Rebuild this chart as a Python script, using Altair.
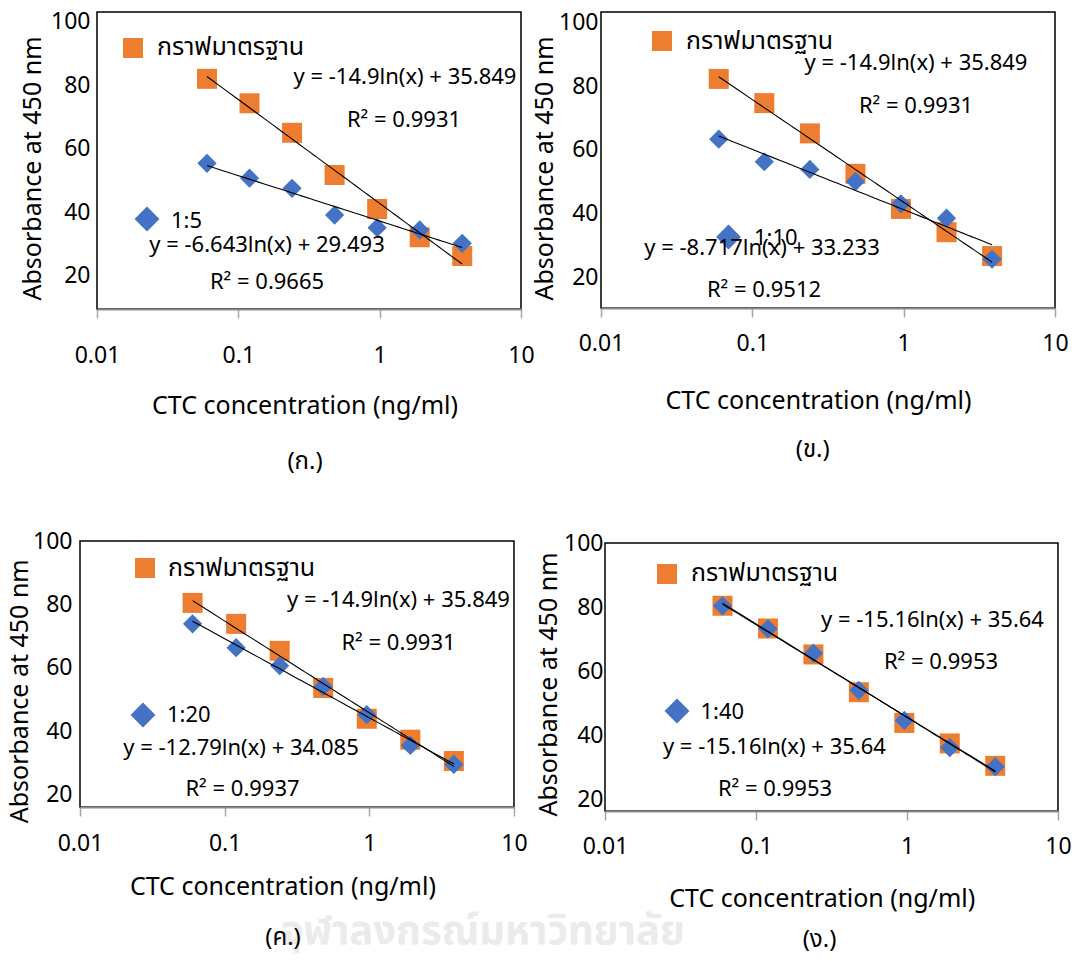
import altair as alt
import pandas as pd

# ---------------- data ----------------
conc = [0.06, 0.12, 0.24, 0.48, 0.96, 1.92, 3.84]
std_name = "กราฟมาตรฐาน"
ratio_names = ["1:5", "1:10", "1:20", "1:40"]
panel_caps = ["(ก.)", "(ข.)", "(ค.)", "(ง.)"]

std_1 = [82.0, 74.3, 65.0, 51.7, 41.0, 32.1, 26.2]
dil_1 = [55.4, 50.7, 47.5, 39.1, 35.1, 34.4, 30.2]
std_2 = [82.3, 74.7, 65.2, 52.5, 41.5, 34.2, 26.7]
dil_2 = [63.4, 56.3, 53.9, 50.1, 43.1, 38.6, 25.7]
std_3 = [80.5, 73.9, 65.4, 53.7, 44.0, 37.4, 30.7]
dil_3 = [73.9, 66.4, 60.7, 54.2, 45.3, 35.6, 29.6]
std_4 = [80.4, 73.3, 65.2, 53.4, 43.8, 37.4, 30.4]
dil_4 = [80.4, 73.2, 65.6, 54.0, 44.6, 36.1, 30.1]

eq_std = ["y = -14.9ln(x) + 35.849", "y = -14.9ln(x) + 35.849",
          "y = -14.9ln(x) + 35.849", "y = -15.16ln(x) + 35.64"]
r2_std = ["R² = 0.9931", "R² = 0.9931", "R² = 0.9931", "R² = 0.9953"]
eq_dil = ["y = -6.643ln(x) + 29.493", "y = -8.717ln(x) + 33.233",
          "y = -12.79ln(x) + 34.085", "y = -15.16ln(x) + 35.64"]
r2_dil = ["R² = 0.9665", "R² = 0.9512", "R² = 0.9937", "R² = 0.9953"]

x_ticks = [0.01, 0.1, 1, 10]
y_ticks = [20, 40, 60, 80, 100]
x_title = "CTC concentration (ng/ml)"
y_title = "Absorbance at 450 nm"
watermark = "จุฬาลงกรณ์มหาวิทยาลัย"

STD = [std_1, std_2, std_3, std_4]
DIL = [dil_1, dil_2, dil_3, dil_4]

# ---------------- styles / layout (page pixel positions) ----------------
ORANGE = "#ED7D31"
BLUE = "#4472C4"
FONT = "Noto Sans"
THAI = "Noto Sans Thai, Noto Sans, sans-serif"
M = 8             # page margin
W, H = 1063, 945  # whole drawing area

LAY = [
    dict(frame=(97, 12, 521, 309), ydom=[9.5, 103.05], xly=355, ylr=90,
         xt=(304.5, 405), yt=(32, 168), cap=(305, 462),
         sq=(133, 48), th=(157, 47), e1=(405, 77), r1=(404, 120),
         dm=(147, 219), rl=(171, 221), e2=(267, 245), r2=(267, 282)),
    dict(frame=(601, 12, 1055, 308), ydom=[10.4, 103.3], xly=343, ylr=598,
         xt=(818, 400), yt=(544, 168), cap=(812.7, 450),
         sq=(662, 41), th=(686, 41), e1=(916, 63), r1=(916, 106),
         dm=(728.5, 237), rl=(754, 238), e2=(762, 248), r2=(764, 290)),
    dict(frame=(80, 541, 514, 807), ydom=[16.2, 100], xly=843, ylr=72,
         xt=(282.4, 886.7), yt=(19.6, 690.8), cap=(283, 938),
         sq=(145, 568), th=(168, 568), e1=(398.5, 600), r1=(398.5, 643),
         dm=(143, 715), rl=(167, 715), e2=(241, 748), r2=(242.5, 789)),
    dict(frame=(605, 543, 1058, 811), ydom=[16.3, 100], xly=846.7, ylr=603,
         xt=(821.7, 898.3), yt=(548.4, 684), cap=(819.5, 940),
         sq=(667, 574), th=(691, 573), e1=(932.5, 620), r1=(941, 662),
         dm=(677, 711), rl=(700.5, 712), e2=(774.4, 747), r2=(775, 789)),
]

TICK = 9
one = pd.DataFrame({"k": [0]})


def txt(s, pos, size, align="center", font=FONT, color="black", weight="normal"):
    return alt.Chart(one).mark_text(
        text=s, align=align, baseline="middle", fontSize=size, font=font,
        color=color, fontWeight=weight
    ).encode(x=alt.value(pos[0] - M), y=alt.value(pos[1] - M))


def sym(shape, color, size, pos):
    return alt.Chart(one).mark_point(
        shape=shape, filled=True, size=size, color=color, opacity=1, strokeWidth=0
    ).encode(x=alt.value(pos[0] - M), y=alt.value(pos[1] - M))


def panel(i):
    c = LAY[i]
    x0, y0, x1, y1 = c["frame"]
    df = pd.DataFrame({
        "conc": conc + conc,
        "abs": STD[i] + DIL[i],
        "series": [std_name] * len(conc) + [ratio_names[i]] * len(conc),
    })
    xscale = alt.Scale(type="log", domain=[0.01, 10], nice=False, range=[x0 - M, x1 - M])
    yscale = alt.Scale(domain=c["ydom"], nice=False, zero=False, range=[y1 - M, y0 - M])
    xaxis = alt.Axis(
        orient="bottom", offset=(y1 - M) - H, zindex=1,
        values=x_ticks, format="~g", title=x_title, labelFlush=False,
        labelBaseline="middle", labelPadding=(c["xly"] - y1) - TICK, tickSize=TICK,
        tickColor="#a6a6a6", tickWidth=1.5, domainColor="#8c8c8c", domainWidth=2,
        titleX=c["xt"][0] - M, titleY=c["xt"][1] - y1,
        titleBaseline="middle", titleAlign="center",
    )
    yaxis = alt.Axis(
        orient="left", offset=-(x0 - M), zindex=1,
        values=y_ticks, title=y_title, domain=False, ticks=False,
        labelPadding=x0 - c["ylr"], labelFlush=False,
        titleX=c["yt"][0] - x0, titleY=c["yt"][1] - M,
        titleBaseline="middle", titleAlign="center",
    )
    xenc = alt.X("conc:Q", scale=xscale, axis=xaxis)
    yenc = alt.Y("abs:Q", scale=yscale, axis=yaxis)

    frame_df = pd.DataFrame({"conc": [0.01], "conc2": [10],
                             "abs": [c["ydom"][0]], "abs2": [c["ydom"][1]]})
    frame = alt.Chart(frame_df).mark_rect(
        fillOpacity=0, stroke="black", strokeWidth=1.5
    ).encode(x=xenc, x2="conc2:Q", y=yenc, y2="abs2:Q")

    base = alt.Chart(df)
    sq = base.transform_filter(alt.datum.series == std_name).mark_point(
        shape="square", filled=True, size=400, color=ORANGE, opacity=1, strokeWidth=0
    ).encode(x=xenc, y=yenc)
    dm = base.transform_filter(alt.datum.series == ratio_names[i]).mark_point(
        shape="diamond", filled=True, size=370, color=BLUE, opacity=1, strokeWidth=0
    ).encode(x=xenc, y=yenc)
    ln = base.transform_regression(
        "conc", "abs", method="log", groupby=["series"]
    ).mark_line(color="black", strokeWidth=1.1).encode(x=xenc, y=yenc, detail="series:N")
    return alt.layer(frame, sq, dm, ln)


def annotations(i):
    c = LAY[i]
    return [
        sym("square", ORANGE, 400, c["sq"]),
        txt(std_name, c["th"], 25, align="left", font=THAI),
        sym("diamond", BLUE, 620, c["dm"]),
        txt(ratio_names[i], c["rl"], 22, align="left"),
        txt(eq_std[i], c["e1"], 22),
        txt(r2_std[i], c["r1"], 22),
        txt(eq_dil[i], c["e2"], 22),
        txt(r2_dil[i], c["r2"], 22),
        txt(panel_caps[i], c["cap"], 24, font=THAI),
    ]


layers = [txt(watermark, (483, 932), 40, font=THAI, color="#ebebeb", weight="bold")]
for i in range(4):
    layers.append(panel(i))
for i in range(4):
    layers += annotations(i)

chart = alt.layer(*layers).resolve_scale(
    x="independent", y="independent"
).properties(
    width=W, height=H,
    autosize=alt.AutoSizeParams(type="none"),
    padding=0,
    background="white",
).configure_view(stroke="transparent").configure_axis(
    grid=False,
    labelFont=FONT, labelFontSize=23, labelColor="black",
    titleFont=FONT, titleFontSize=25, titleFontWeight="normal", titleColor="black",
)

chart.save("out.html", embed_options={"renderer": "svg", "actions": False})
